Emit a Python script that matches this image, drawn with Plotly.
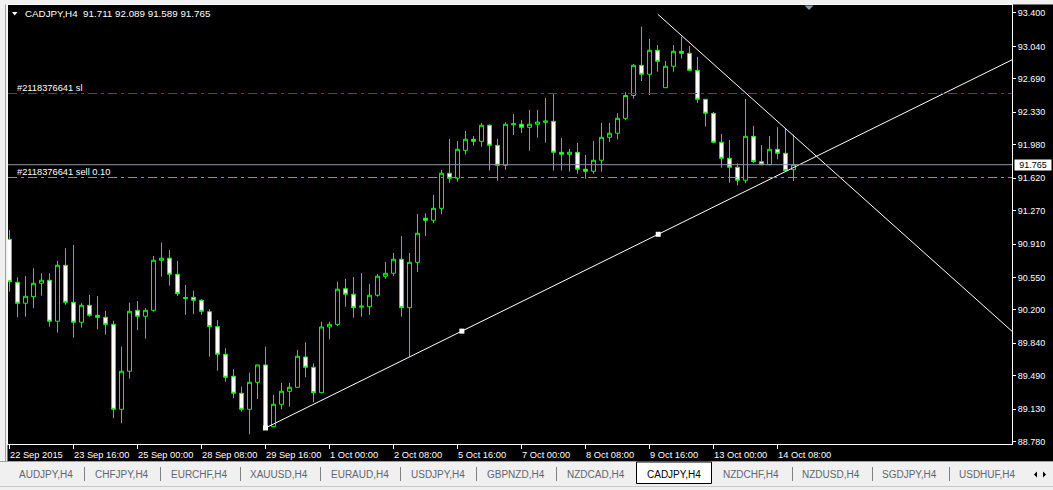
import plotly.graph_objects as go

# ---------------- data ----------------
symbol = "CADJPY,H4"
bar_index = list(range(99))

opens = [
    90.961, 90.498, 90.272, 90.343, 90.487, 90.520, 90.078, 90.681, 90.282, 90.067,
    90.250, 90.142, 90.121, 90.045, 89.129, 89.539, 90.196, 90.132, 90.196, 90.735,
    90.757, 90.584, 90.323, 90.336, 90.304, 90.181, 90.020, 89.722, 89.485, 89.302,
    89.129, 89.420, 89.607, 88.942, 89.183, 89.323, 89.366, 89.693, 89.582, 89.308,
    90.016, 90.045, 90.429, 90.369, 90.230, 90.235, 90.358, 90.563, 90.595, 90.746,
    90.224, 90.713, 91.188, 91.166, 91.295, 91.673, 91.619, 91.920, 92.039, 92.017,
    92.190, 91.974, 91.759, 92.195, 92.201, 92.168, 92.201, 92.222, 92.233, 91.899,
    91.877, 91.899, 91.716, 91.694, 91.813, 92.060, 92.104, 92.265, 92.511, 92.836,
    92.739, 92.998, 92.595, 92.826, 92.987, 92.966, 92.782, 92.470, 92.319, 92.007,
    91.834, 91.737, 91.597, 92.071, 91.798, 91.765, 91.931, 91.888, 91.711]

highs = [
    91.062, 90.552, 90.566, 90.649, 90.595, 90.595, 90.728, 90.864, 90.900, 90.272,
    90.361, 90.350, 90.189, 90.084, 89.804, 90.278, 90.296, 90.218, 90.781, 90.925,
    90.846, 90.728, 90.469, 90.407, 90.315, 90.207, 90.092, 89.787, 89.561, 89.373,
    89.524, 89.607, 89.804, 89.284, 89.413, 89.413, 89.768, 89.851, 89.625, 90.073,
    90.073, 90.504, 90.534, 90.555, 90.598, 90.480, 90.587, 90.717, 90.814, 90.997,
    90.814, 91.234, 91.242, 91.439, 91.708, 92.042, 92.021, 92.128, 92.075, 92.215,
    92.201, 92.042, 92.222, 92.312, 92.247, 92.355, 92.355, 92.484, 92.538, 92.053,
    91.934, 91.999, 91.870, 92.021, 92.215, 92.215, 92.319, 92.545, 92.850, 93.252,
    93.120, 93.055, 92.883, 93.055, 93.145, 93.044, 92.926, 92.470, 92.333, 92.096,
    92.031, 91.780, 92.473, 92.182, 91.978, 92.075, 92.168, 92.150, 92.089]

lows = [
    90.397, 90.121, 90.127, 90.218, 90.354, 90.020, 89.955, 90.257, 89.901, 90.009,
    90.127, 89.992, 89.933, 89.036, 88.979, 89.459, 89.984, 89.890, 90.181, 90.558,
    90.461, 90.350, 90.146, 90.156, 90.146, 89.696, 89.545, 89.427, 89.248, 89.104,
    88.860, 89.240, 88.906, 88.942, 89.129, 89.157, 89.366, 89.474, 89.205, 89.302,
    89.884, 90.027, 90.235, 90.117, 90.127, 90.146, 90.343, 90.537, 90.566, 90.127,
    89.696, 90.609, 90.997, 91.134, 91.231, 91.571, 91.582, 91.873, 91.970, 91.959,
    91.701, 91.593, 91.711, 92.085, 92.107, 91.916, 92.056, 92.002, 91.701, 91.701,
    91.690, 91.668, 91.614, 91.668, 91.690, 92.013, 92.039, 92.247, 92.476, 92.667,
    92.516, 92.767, 92.595, 92.767, 92.908, 92.782, 92.433, 92.175, 91.996, 91.733,
    91.571, 91.543, 91.565, 91.780, 91.760, 91.760, 91.823, 91.701, 91.589]

closes = [
    90.504, 90.272, 90.347, 90.487, 90.520, 90.078, 90.681, 90.282, 90.067, 90.250,
    90.142, 90.121, 90.045, 89.129, 89.539, 90.185, 90.132, 90.196, 90.735, 90.757,
    90.584, 90.375, 90.334, 90.304, 90.185, 90.020, 89.722, 89.474, 89.302, 89.129,
    89.420, 89.607, 88.925, 89.183, 89.323, 89.366, 89.701, 89.582, 89.308, 90.016,
    90.045, 90.423, 90.369, 90.224, 90.240, 90.358, 90.563, 90.595, 90.746, 90.224,
    90.713, 91.026, 91.166, 91.295, 91.673, 91.619, 91.931, 92.039, 92.017, 92.190,
    91.974, 91.759, 92.201, 92.206, 92.168, 92.201, 92.225, 92.236, 91.899, 91.877,
    91.899, 91.716, 91.694, 91.813, 92.060, 92.104, 92.265, 92.511, 92.836, 92.739,
    92.998, 92.879, 92.826, 92.987, 92.966, 92.782, 92.470, 92.319, 92.007, 91.834,
    91.737, 91.597, 92.071, 91.798, 91.765, 91.931, 91.888, 91.701, 91.765]

date_tick_bars = [0, 8, 16, 24, 32, 40, 48, 56, 64, 72, 80, 88, 96]
date_tick_labels = ["22 Sep 2015", "23 Sep 16:00", "25 Sep 00:00", "28 Sep 08:00",
                    "29 Sep 16:00", "1 Oct 00:00", "2 Oct 08:00", "5 Oct 16:00",
                    "7 Oct 00:00", "8 Oct 08:00", "9 Oct 16:00", "13 Oct 00:00",
                    "14 Oct 08:00"]

price_tick_vals = [93.400, 93.040, 92.690, 92.330, 91.980, 91.620, 91.270,
                   90.910, 90.550, 90.200, 89.840, 89.490, 89.130, 88.780]
price_tick_text = ["93.400", "93.040", "92.690", "92.330", "91.980", "91.620", "91.270",
                   "90.910", "90.550", "90.200", "89.840", "89.490", "89.130", "88.780"]

bid_price = 91.765
order_ticket = "#2118376641"
sl_price = 92.532
entry_price = 91.627
order_text = "sell 0.10"

trend_up_bars = [32, 81.09]
trend_up_prices = [88.928, 91.015]
trend_down_bars = [81.04, 105.12]
trend_down_prices = [93.386, 91.528]

tab_names = ["AUDJPY,H4", "CHFJPY,H4", "EURCHF,H4", "XAUUSD,H4", "EURAUD,H4",
             "USDJPY,H4", "GBPNZD,H4", "NZDCAD,H4", "CADJPY,H4", "NZDCHF,H4",
             "NZDUSD,H4", "SGDJPY,H4", "USDHUF,H4"]
active_tab = "CADJPY,H4"

# ---------------- layout constants ----------------
W, H = 1053, 490
ML, MR, MT, MB = 8, 41, 5, 46
X_RANGE = [-0.1875, 125.3125]
Y_RANGE = [88.755, 93.486]
FONT = "Liberation Sans"
tab_centers_px = [45.5, 122, 199, 279, 360, 437.5, 515.8, 595.5, 673.5, 751, 831, 909, 987.5]
tab_separators_px = [84.5, 160.5, 240.5, 320.5, 400.5, 476.5, 556.5, 792.5, 872.5, 949.5]


def px_x(px):
    return (px - ML) / (W - ML - MR)


def px_y(py):
    return (H - MB - py) / (H - MT - MB)


def ray(bars, prices):
    slope = (prices[1] - prices[0]) / (bars[1] - bars[0])
    x_end = X_RANGE[1]
    return [bars[0], x_end], [prices[0], prices[0] + slope * (x_end - bars[0])]


fig = go.Figure()

fig.add_trace(go.Candlestick(
    x=bar_index, open=opens, high=highs, low=lows, close=closes,
    increasing=dict(line=dict(color="#00ff00", width=1), fillcolor="#000000"),
    decreasing=dict(line=dict(color="#00ff00", width=1), fillcolor="#ffffff"),
    whiskerwidth=0, hoverinfo="skip", showlegend=False,
))

# horizontal order / bid lines
shapes = []
shapes.append(dict(type="line", xref="paper", yref="y", x0=0, x1=1, y0=sl_price, y1=sl_price,
                   line=dict(color="#ff0000", width=1, dash="9px,4px,3px,4px"), layer="above"))
shapes.append(dict(type="line", xref="paper", yref="y", x0=0, x1=1, y0=entry_price, y1=entry_price,
                   line=dict(color="#32cd32", width=1, dash="9px,4px,3px,4px"), layer="above"))
shapes.append(dict(type="line", xref="paper", yref="y", x0=0, x1=1, y0=bid_price, y1=bid_price,
                   line=dict(color="#8a96a3", width=1), layer="above"))

# trend lines (rays to the right edge)
ux, uy = ray(trend_up_bars, trend_up_prices)
fig.add_trace(go.Scatter(x=ux, y=uy, mode="lines", line=dict(color="#ffffff", width=1),
                         hoverinfo="skip", showlegend=False))
dx, dy = ray(trend_down_bars, trend_down_prices)
fig.add_trace(go.Scatter(x=dx, y=dy, mode="lines", line=dict(color="#ffffff", width=1),
                         hoverinfo="skip", showlegend=False))
anchor_x = [trend_up_bars[0], (trend_up_bars[0] + trend_up_bars[1]) / 2, trend_up_bars[1]]
anchor_y = [trend_up_prices[0], (trend_up_prices[0] + trend_up_prices[1]) / 2, trend_up_prices[1]]
fig.add_trace(go.Scatter(x=anchor_x, y=anchor_y, mode="markers",
                         marker=dict(symbol="square", size=5, color="#ffffff", line=dict(width=0)),
                         hoverinfo="skip", showlegend=False))

# ---------------- window chrome ----------------
GRAY = "#f0f0f0"
shapes += [
    dict(type="rect", xref="paper", yref="paper", x0=px_x(0), x1=px_x(7.5), y0=px_y(0), y1=px_y(461),
         fillcolor=GRAY, line=dict(width=0), layer="above"),
    dict(type="line", xref="paper", yref="paper", x0=px_x(5.5), x1=px_x(5.5), y0=px_y(0), y1=px_y(461),
         line=dict(color="#a0a0a0", width=1), layer="above"),
    dict(type="rect", xref="paper", yref="paper", x0=px_x(0), x1=px_x(W), y0=px_y(0), y1=px_y(4.5),
         fillcolor=GRAY, line=dict(width=0), layer="above"),
    dict(type="rect", xref="paper", yref="paper", x0=px_x(0), x1=px_x(W), y0=px_y(461), y1=px_y(H),
         fillcolor=GRAY, line=dict(width=0), layer="above"),
    dict(type="line", xref="paper", yref="paper", x0=px_x(0), x1=px_x(W), y0=px_y(461.5), y1=px_y(461.5),
         line=dict(color="#a0a0a0", width=1), layer="above"),
    dict(type="line", xref="paper", yref="paper", x0=px_x(0), x1=px_x(W), y0=px_y(486.5), y1=px_y(486.5),
         line=dict(color="#c8c8c8", width=1), layer="above"),
    dict(type="rect", xref="paper", yref="paper", x0=px_x(636.5), x1=px_x(711.5), y0=px_y(462), y1=px_y(483.5),
         fillcolor="#ffffff", line=dict(color="#000000", width=1), layer="above"),
    # chart-shift marker
    dict(type="path", xref="paper", yref="paper",
         path=f"M {px_x(804.5)},{px_y(5.5)} L {px_x(813.5)},{px_y(5.5)} L {px_x(809)},{px_y(10)} Z",
         fillcolor="#8a96a3", line=dict(width=0), layer="above"),
    # title triangle
    dict(type="path", xref="paper", yref="paper",
         path=f"M {px_x(12)},{px_y(12)} L {px_x(17.5)},{px_y(12)} L {px_x(14.75)},{px_y(15.5)} Z",
         fillcolor="#ffffff", line=dict(width=0), layer="above"),
    # tab scroll arrows
    dict(type="path", xref="paper", yref="paper",
         path=f"M {px_x(1037)},{px_y(471.5)} L {px_x(1037)},{px_y(477.5)} L {px_x(1034)},{px_y(474.5)} Z",
         fillcolor="#000000", line=dict(width=0), layer="above"),
    dict(type="path", xref="paper", yref="paper",
         path=f"M {px_x(1043)},{px_y(471.5)} L {px_x(1043)},{px_y(477.5)} L {px_x(1046)},{px_y(474.5)} Z",
         fillcolor="#000000", line=dict(width=0), layer="above"),
]
for sx in tab_separators_px:
    shapes.append(dict(type="line", xref="paper", yref="paper", x0=px_x(sx), x1=px_x(sx),
                       y0=px_y(467), y1=px_y(481), line=dict(color="#808080", width=1), layer="above"))

annotations = []
title_text = f"{symbol}\u00a0\u00a0{opens[-1]:.3f} {highs[-1]:.3f} {lows[-1]:.3f} {closes[-1]:.3f}"
annotations.append(dict(text=title_text, xref="paper", yref="paper", x=px_x(23.5), y=px_y(14),
                        xanchor="left", yanchor="middle", showarrow=False, borderpad=0,
                        font=dict(family=FONT, size=9.8, color="#ffffff")))
for b, lab in zip(date_tick_bars, date_tick_labels):
    annotations.append(dict(text=lab, xref="x", yref="paper", x=b, y=px_y(455), xshift=-1,
                            xanchor="left", yanchor="middle", showarrow=False, borderpad=0,
                            font=dict(family=FONT, size=9.3, color="#ffffff")))
annotations.append(dict(text=f"{order_ticket} sl", xref="paper", yref="y", x=px_x(15.5), y=sl_price,
                        xanchor="left", yanchor="bottom", showarrow=False, borderpad=0,
                        font=dict(family=FONT, size=9.3, color="#ffffff")))
annotations.append(dict(text=f"{order_ticket} {order_text}", xref="paper", yref="y", x=px_x(15.5),
                        y=entry_price, xanchor="left", yanchor="bottom", showarrow=False, borderpad=0,
                        font=dict(family=FONT, size=9.3, color="#ffffff")))
annotations.append(dict(text=f"{bid_price:.3f}", xref="paper", yref="y", x=1, xshift=2, y=bid_price,
                        xanchor="left", yanchor="middle", showarrow=False, borderpad=0,
                        width=36, height=10, bgcolor="#ffffff",
                        font=dict(family=FONT, size=9, color="#000000")))
for name, cx in zip(tab_names, tab_centers_px):
    annotations.append(dict(text=name, xref="paper", yref="paper", x=px_x(cx), y=px_y(474.3),
                            xanchor="center", yanchor="middle", showarrow=False, borderpad=0,
                            font=dict(family=FONT, size=10,
                                      color="#000000" if name == active_tab else "#5f6670")))

fig.update_layout(
    width=W, height=H, autosize=False,
    margin=dict(l=ML, r=MR, t=MT, b=MB, pad=0),
    paper_bgcolor="#000000", plot_bgcolor="#000000",
    showlegend=False, hovermode=False,
    boxgap=0.5, boxgroupgap=0,
    shapes=shapes, annotations=annotations,
    xaxis=dict(range=X_RANGE, showgrid=False, zeroline=False, rangeslider=dict(visible=False),
               showline=True, mirror=True, linecolor="#ffffff", linewidth=1,
               tickmode="array", tickvals=date_tick_bars, ticks="outside", ticklen=4,
               tickcolor="#ffffff", tickwidth=1, showticklabels=False, fixedrange=True),
    yaxis=dict(range=Y_RANGE, side="right", showgrid=False, zeroline=False,
               showline=True, mirror=True, linecolor="#ffffff", linewidth=1,
               tickmode="array", tickvals=price_tick_vals, ticktext=price_tick_text,
               ticks="outside", ticklen=3, tickcolor="#ffffff", tickwidth=1,
               tickfont=dict(family=FONT, size=9, color="#ffffff"), fixedrange=True),
)

fig.write_html("out.html", config=dict(displayModeBar=False),
               post_script="document.body.style.margin='0px';document.body.style.overflow='hidden';")
